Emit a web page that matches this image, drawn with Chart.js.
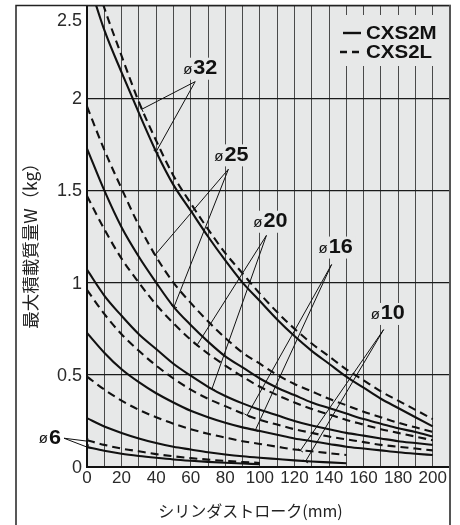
<!DOCTYPE html>
<html>
<head>
<meta charset="utf-8">
<script src="https://cdn.jsdelivr.net/npm/chart.js@4.4.1/dist/chart.umd.min.js"></script>
<style>
  html, body { margin: 0; padding: 0; background: #fff; }
  #wrap { width: 460px; height: 525px; }
</style>
</head>
<body>
<div id="wrap"><canvas id="chart" width="460" height="525"></canvas></div>
<script>
// cylinder stroke (mm)
const strokes200 = [0, 10, 20, 30, 40, 50, 60, 70, 80, 90, 100, 110, 120, 130, 140, 150, 160, 170, 180, 190, 200];
const strokes150 = [0, 10, 20, 30, 40, 50, 60, 70, 80, 90, 100, 110, 120, 130, 140, 150];
const strokes100 = [0, 10, 20, 30, 40, 50, 60, 70, 80, 90, 100];

// max load W (kg), M = CXS2M (solid), L = CXS2L (dashed)
const bore32L = [2.78, 2.49, 2.23, 1.98, 1.77, 1.58, 1.43, 1.29, 1.16, 1.05, 0.94, 0.84, 0.75, 0.67, 0.60, 0.53, 0.47, 0.41, 0.36, 0.31, 0.26];
const bore32M = [2.66, 2.37, 2.14, 1.92, 1.71, 1.53, 1.39, 1.25, 1.12, 1.00, 0.90, 0.80, 0.71, 0.63, 0.56, 0.49, 0.43, 0.37, 0.32, 0.27, 0.22];
const bore25L = [1.955, 1.72, 1.51, 1.31, 1.14, 1.00, 0.89, 0.79, 0.70, 0.62, 0.56, 0.50, 0.45, 0.41, 0.37, 0.335, 0.30, 0.27, 0.24, 0.215, 0.19];
const bore25M = [1.727, 1.50, 1.30, 1.14, 1.00, 0.87, 0.77, 0.68, 0.60, 0.54, 0.48, 0.43, 0.39, 0.35, 0.32, 0.29, 0.26, 0.235, 0.21, 0.19, 0.165];
const bore20L = [1.47, 1.29, 1.13, 1.00, 0.88, 0.78, 0.69, 0.615, 0.55, 0.49, 0.435, 0.39, 0.35, 0.315, 0.285, 0.255, 0.23, 0.205, 0.185, 0.165, 0.145];
const bore20M = [1.07, 0.93, 0.82, 0.72, 0.64, 0.56, 0.495, 0.435, 0.385, 0.345, 0.31, 0.28, 0.25, 0.225, 0.205, 0.185, 0.17, 0.155, 0.14, 0.13, 0.12];
const bore16L = [0.96, 0.83, 0.72, 0.63, 0.55, 0.48, 0.42, 0.37, 0.33, 0.29, 0.255, 0.23, 0.205, 0.185, 0.165, 0.15, 0.135, 0.12, 0.11, 0.10, 0.09];
const bore16M = [0.727, 0.62, 0.53, 0.46, 0.40, 0.35, 0.305, 0.27, 0.24, 0.215, 0.195, 0.175, 0.155, 0.14, 0.125, 0.11, 0.10, 0.09, 0.08, 0.072, 0.065];
const bore10L = [0.49, 0.42, 0.36, 0.31, 0.27, 0.235, 0.205, 0.18, 0.16, 0.14, 0.125, 0.11, 0.095, 0.085, 0.075, 0.065];
const bore10M = [0.265, 0.22, 0.185, 0.155, 0.13, 0.11, 0.095, 0.08, 0.068, 0.058, 0.05, 0.043, 0.036, 0.03, 0.025, 0.02];
const bore6L = [0.145, 0.12, 0.10, 0.085, 0.07, 0.058, 0.048, 0.04, 0.033, 0.027, 0.022];
const bore6M = [0.108, 0.088, 0.072, 0.06, 0.05, 0.041, 0.034, 0.028, 0.023, 0.019, 0.015];

const yTicks = [0, 0.5, 1, 1.5, 2, 2.5];
const xTickLabels = [0, 20, 40, 60, 80, 100, 120, 140, 160, 180, 200];
const seriesNames = ['CXS2M', 'CXS2L'];
const xTitle = 'シリンダストローク(mm)';
const yTitle = '最大積載質量W（kg）';

// bore callouts: label, where the text sits and where the leaders end (data units)
const callouts = [
  { bore: '32', at: [65.5, 2.16], from: [62.6, 2.09], to: [[31.7, 1.94], [40, 1.71]] },
  { bore: '25', at: [83.5, 1.69], from: [81.8, 1.615], to: [[39.4, 1.15], [50.4, 0.87]] },
  { bore: '20', at: [106.1, 1.33], from: [103.8, 1.256], to: [[63.6, 0.66], [72.3, 0.424]] },
  { bore: '16', at: [143.8, 1.19], from: [141.5, 1.098], to: [[92.6, 0.28], [97.4, 0.2]] },
  { bore: '10', at: [174, 0.83], from: [171.6, 0.745], to: [[123.5, 0.09], [126.4, 0.03]] },
  { bore: '6', at: [-21.5, 0.156], from: [-13.3, 0.156], to: [[0.3, 0.14], [0.3, 0.107]] }
];

const FONT = '"Liberation Sans", Arial, sans-serif';
const JP = '"Noto Sans CJK JP", sans-serif';
const PLOT_BG = '#e7e8e8';

function pts(xs, ys) {
  return xs.map((x, i) => ({ x: x, y: ys[i] }));
}

function series(label, xs, ys, dashed) {
  return {
    label: label,
    data: pts(xs, ys),
    borderColor: '#111',
    borderWidth: 2.1,
    borderDash: dashed ? [8, 5] : [],
    pointRadius: 0,
    fill: false,
    cubicInterpolationMode: 'monotone',
    clip: 0
  };
}

const datasets = [
  series('ø32 M', strokes200, bore32M, false),
  series('ø32 L', strokes200, bore32L, true),
  series('ø25 M', strokes200, bore25M, false),
  series('ø25 L', strokes200, bore25L, true),
  series('ø20 M', strokes200, bore20M, false),
  series('ø20 L', strokes200, bore20L, true),
  series('ø16 M', strokes200, bore16M, false),
  series('ø16 L', strokes200, bore16L, true),
  series('ø10 M', strokes150, bore10M, false),
  series('ø10 L', strokes150, bore10L, true),
  series('ø6 M', strokes100, bore6M, false),
  series('ø6 L', strokes100, bore6L, true)
];

// size of a bore label, "ø" thin + number bold
function calloutBox(ctx, c) {
  ctx.font = '15px ' + FONT;
  const w1 = ctx.measureText('ø').width;
  ctx.font = 'bold 20px ' + FONT;
  const w2 = ctx.measureText(c.bore).width * 1.08;
  return { w1: w1, w2: w2, w: w1 + w2 + 1 };
}

const decor = {
  id: 'decor',
  beforeDraw(chart) {
    const { ctx, chartArea: a } = chart;
    ctx.save();
    ctx.fillStyle = '#fff';
    ctx.fillRect(0, 0, chart.width, chart.height);
    ctx.fillStyle = PLOT_BG;
    ctx.fillRect(a.left, a.top, a.right - a.left, a.bottom - a.top);
    ctx.restore();
  },
  beforeDatasetsDraw(chart) {
    const { ctx, chartArea: a, scales: { x, y } } = chart;
    ctx.save();
    ctx.fillStyle = PLOT_BG;
    // legend patch
    ctx.fillRect(a.right - 115, a.top + 9, 113, 51);
    // callout patches
    callouts.forEach(c => {
      const px = x.getPixelForValue(c.at[0]);
      const py = y.getPixelForValue(c.at[1]);
      if (px < a.left) return;
      const b = calloutBox(ctx, c);
      ctx.fillRect(px - b.w / 2 - 3, py - 11, b.w + 6, 22);
    });
    ctx.restore();
  },
  afterDraw(chart) {
    const { ctx, chartArea: a, scales: { x, y } } = chart;
    ctx.save();

    // leader lines
    ctx.strokeStyle = '#111';
    ctx.lineWidth = 1;
    callouts.forEach(c => {
      const sx = x.getPixelForValue(c.from[0]);
      const sy = y.getPixelForValue(c.from[1]);
      c.to.forEach(t => {
        const ex = x.getPixelForValue(t[0]);
        const ey = y.getPixelForValue(t[1]);
        ctx.beginPath();
        ctx.moveTo(sx, sy);
        ctx.lineTo(ex, ey);
        const len = Math.hypot(ex - sx, ey - sy);
        const nx = -(ey - sy) / len * 3, ny = (ex - sx) / len * 3;
        ctx.moveTo(ex - nx, ey - ny);
        ctx.lineTo(ex + nx, ey + ny);
        ctx.stroke();
      });
    });

    // callout texts
    ctx.fillStyle = '#111';
    ctx.textBaseline = 'middle';
    ctx.textAlign = 'left';
    callouts.forEach(c => {
      const px = x.getPixelForValue(c.at[0]);
      const py = y.getPixelForValue(c.at[1]);
      const b = calloutBox(ctx, c);
      const left = px - b.w / 2;
      ctx.font = '15px ' + FONT;
      ctx.fillText('ø', left, py + 1);
      ctx.font = 'bold 20px ' + FONT;
      ctx.save();
      ctx.translate(left + b.w1 + 1, py);
      ctx.scale(1.08, 1);
      ctx.fillText(c.bore, 0, 0);
      ctx.restore();
    });

    // legend
    const lx = a.right - 110;
    const ly1 = a.top + 27, ly2 = a.top + 46;
    ctx.lineWidth = 2.4;
    ctx.beginPath();
    ctx.moveTo(lx + 3, ly1);
    ctx.lineTo(lx + 21, ly1);
    ctx.stroke();
    ctx.setLineDash([7, 5]);
    ctx.beginPath();
    ctx.moveTo(lx, ly2);
    ctx.lineTo(lx + 21, ly2);
    ctx.stroke();
    ctx.setLineDash([]);
    ctx.font = 'bold 18px ' + FONT;
    [ly1, ly2].forEach((ly, i) => {
      ctx.save();
      ctx.translate(lx + 26, ly + 1);
      ctx.scale(1.14, 1);
      ctx.fillText(seriesNames[i], 0, 0);
      ctx.restore();
    });

    // y tick labels (top one sits inside the frame)
    ctx.fillStyle = '#2a2a2a';
    ctx.font = '18px ' + FONT;
    ctx.textAlign = 'right';
    yTicks.forEach(v => {
      let py = y.getPixelForValue(v);
      if (v === 2.5) py += 14;
      ctx.fillText(String(v), a.left - 5, py + 1);
    });

    // axis titles
    ctx.fillStyle = '#222';
    ctx.font = '16px ' + JP;
    ctx.textAlign = 'center';
    ctx.fillText(xTitle, (a.left + a.right) / 2 - 18, chart.height - 14);
    ctx.save();
    ctx.translate(30, (a.top + a.bottom) / 2 + 5);
    ctx.rotate(-Math.PI / 2);
    ctx.font = '17.5px ' + JP;
    ctx.fillText(yTitle, 0, 0);
    ctx.restore();

    // outer frame
    ctx.strokeStyle = '#222';
    ctx.lineWidth = 1.5;
    ctx.beginPath();
    ctx.moveTo(16, chart.height);
    ctx.lineTo(16, 5.5);
    ctx.lineTo(a.right + 1, 5.5);
    ctx.stroke();
    ctx.strokeStyle = '#555';
    ctx.lineWidth = 2;
    ctx.beginPath();
    ctx.moveTo(a.right, 5);
    ctx.lineTo(a.right, chart.height);
    ctx.stroke();

    ctx.restore();
  }
};

new Chart(document.getElementById('chart').getContext('2d'), {
  type: 'line',
  data: { datasets: datasets },
  options: {
    responsive: false,
    animation: false,
    devicePixelRatio: 1,
    layout: { padding: { left: 0, top: 6, right: 10, bottom: 0 } },
    plugins: { legend: { display: false }, tooltip: { enabled: false } },
    scales: {
      x: {
        type: 'linear',
        min: 0,
        max: 210,
        afterFit: s => { s.height = 58; },
        grid: { color: '#4a4a4a', lineWidth: 1, drawTicks: false },
        border: { display: true, color: '#111', width: 2 },
        ticks: {
          stepSize: 10,
          autoSkip: false,
          maxRotation: 0,
          padding: 1,
          color: '#2a2a2a',
          font: { family: FONT, size: 17 },
          callback: v => (xTickLabels.includes(v) ? String(v) : '')
        }
      },
      y: {
        min: 0,
        max: 2.5,
        afterFit: s => { s.width = 87; },
        grid: { color: '#1a1a1a', lineWidth: 1.2, drawTicks: false },
        border: { display: true, color: '#111', width: 2 },
        ticks: { stepSize: 0.5, display: false }
      }
    }
  },
  plugins: [decor]
});
</script>
</body>
</html>
